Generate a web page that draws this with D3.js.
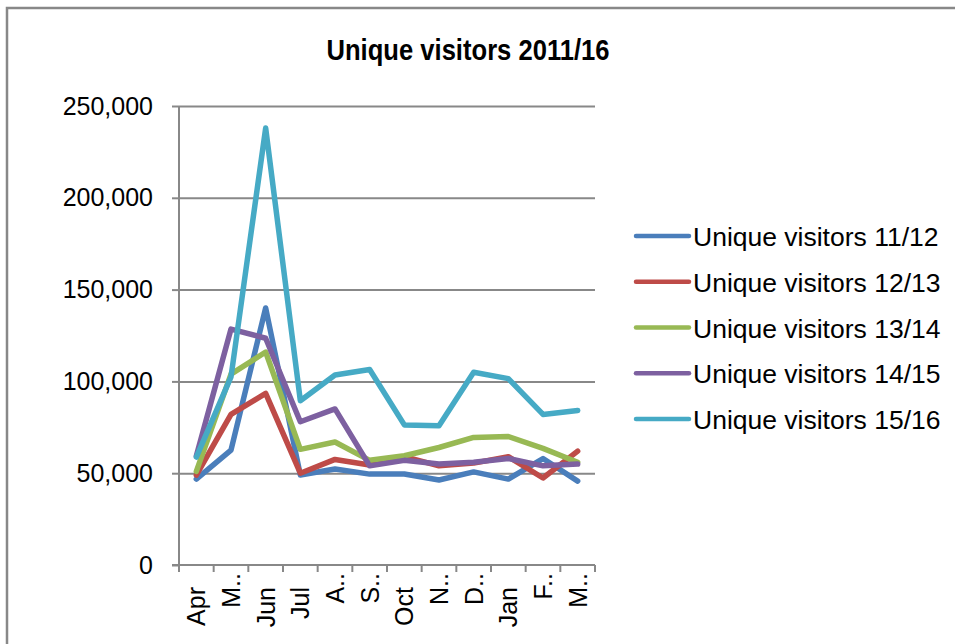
<!DOCTYPE html>
<html>
<head>
<meta charset="utf-8">
<script src="https://cdn.jsdelivr.net/npm/d3@7"></script>
<style>
  body { margin: 0; background: #fff; }
  svg { display: block; }
</style>
</head>
<body>
<div id="chart"></div>
<script>
// month labels as shown (truncated ones kept as in the picture)
var monthLabels = ["Apr", "M..", "Jun", "Jul", "A..", "S..", "Oct", "N..", "D..", "Jan", "F..", "M.."];

var seriesNames = ["Unique visitors 11/12", "Unique visitors 12/13", "Unique visitors 13/14",
                   "Unique visitors 14/15", "Unique visitors 15/16"];

var v1112 = [46800, 62600, 140000, 49000, 52300, 49500, 49600, 46300, 50700, 46800, 58000, 45700];
var v1213 = [49000, 82000, 93500, 50000, 57500, 54500, 59000, 54000, 55500, 59000, 47400, 62000];
var v1314 = [51000, 104000, 116000, 63000, 67000, 57000, 59500, 64000, 69500, 70000, 63500, 56000];
var v1415 = [59400, 128500, 123500, 78000, 85000, 54000, 57000, 55000, 56000, 58000, 54000, 55000];
var v1516 = [58800, 102500, 238000, 89500, 103500, 106500, 76300, 75800, 105000, 101500, 82000, 84200];

var yTicks = [0, 50000, 100000, 150000, 200000, 250000];

var colors = ["#4A7EBB", "#BE4B48", "#98B954", "#7D60A0", "#46AAC5"];
var allSeries = [v1112, v1213, v1314, v1415, v1516];

var W = 955, H = 644;
var gridColor = "#888888";

var svg = d3.select("#chart")
    .append("svg")
    .attr("width", W)
    .attr("height", H);

// chart area border
svg.append("rect")
    .attr("x", 7)
    .attr("y", 8)
    .attr("width", W + 20)
    .attr("height", H + 20)
    .attr("fill", "#fff")
    .attr("stroke", gridColor)
    .attr("stroke-width", 2.5);

// title
svg.append("text")
    .attr("x", 468)
    .attr("y", 60)
    .attr("text-anchor", "middle")
    .attr("textLength", 283)
    .attr("lengthAdjust", "spacingAndGlyphs")
    .style("font-family", "'Liberation Sans Narrow', 'Liberation Sans', Arial, sans-serif")
    .style("font-weight", "bold")
    .style("font-size", "29px")
    .text("Unique visitors 2011/16");

// scales
var x = d3.scaleBand()
    .domain(d3.range(monthLabels.length))
    .range([179, 595])
    .padding(0);

var y = d3.scaleLinear()
    .domain([0, 250000])
    .range([565, 106]);

var plotW = 595 - 179;

// gridlines
svg.append("g")
    .attr("transform", "translate(179,0)")
    .call(d3.axisLeft(y).tickValues(yTicks.slice(1)).tickSize(-plotW).tickFormat(""))
    .call(function (g) { g.select(".domain").remove(); })
    .selectAll("line")
    .attr("stroke", gridColor)
    .attr("stroke-width", 2);

// y axis
var yAxis = svg.append("g")
    .attr("transform", "translate(179,0)")
    .call(d3.axisLeft(y).tickValues(yTicks).tickSize(7).tickPadding(19).tickFormat(d3.format(",")));

yAxis.select(".domain")
    .attr("stroke", gridColor)
    .attr("stroke-width", 2)
    .attr("d", "M0," + y(0) + "V" + y(250000));

yAxis.selectAll("line")
    .attr("stroke", gridColor)
    .attr("stroke-width", 2);

yAxis.selectAll("text")
    .style("font-family", "'Liberation Sans', Arial, sans-serif")
    .style("font-size", "25px")
    .style("fill", "#000");

// x axis (ticks on category boundaries)
var xAxisG = svg.append("g")
    .attr("transform", "translate(0," + y(0) + ")");

xAxisG.append("line")
    .attr("x1", 172)
    .attr("x2", 595)
    .attr("stroke", gridColor)
    .attr("stroke-width", 2);

var bounds = d3.range(monthLabels.length + 1).map(function (i) {
    return i < monthLabels.length ? x(i) : x(i - 1) + x.bandwidth();
});

xAxisG.selectAll(".xtick")
    .data(bounds)
    .enter()
    .append("line")
    .attr("class", "xtick")
    .attr("x1", function (d) { return d; })
    .attr("x2", function (d) { return d; })
    .attr("y1", 0)
    .attr("y2", 7)
    .attr("stroke", gridColor)
    .attr("stroke-width", 2);

xAxisG.selectAll(".xlabel")
    .data(monthLabels)
    .enter()
    .append("text")
    .attr("class", "xlabel")
    .attr("text-anchor", "end")
    .attr("transform", function (d, i) {
        var ty = /\.\.$/.test(d) ? 8 : 22;
        return "translate(" + (x(i) + x.bandwidth() / 2 + 9) + "," + ty + ") rotate(-90)";
    })
    .style("font-family", "'Liberation Sans', Arial, sans-serif")
    .style("font-size", "25px")
    .style("fill", "#000")
    .text(function (d) { return d; });

// lines
var line = d3.line()
    .x(function (d, i) { return x(i) + x.bandwidth() / 2; })
    .y(function (d) { return y(d); });

svg.selectAll(".series")
    .data(allSeries)
    .enter()
    .append("path")
    .attr("class", "series")
    .attr("d", line)
    .attr("fill", "none")
    .attr("stroke", function (d, i) { return colors[i]; })
    .attr("stroke-width", 5.5)
    .attr("stroke-linejoin", "round")
    .attr("stroke-linecap", "round");

// legend
var legend = svg.selectAll(".legend")
    .data(seriesNames)
    .enter()
    .append("g")
    .attr("class", "legend")
    .attr("transform", function (d, i) { return "translate(636," + (236 + i * 45.75) + ")"; });

legend.append("line")
    .attr("x1", 0)
    .attr("x2", 53)
    .attr("stroke", function (d, i) { return colors[i]; })
    .attr("stroke-width", 4.5)
    .attr("stroke-linecap", "round");

legend.append("text")
    .attr("x", 57)
    .attr("y", 10)
    .style("font-family", "'Liberation Sans', Arial, sans-serif")
    .style("font-size", "26.5px")
    .style("fill", "#000")
    .text(function (d) { return d; });
</script>
</body>
</html>
